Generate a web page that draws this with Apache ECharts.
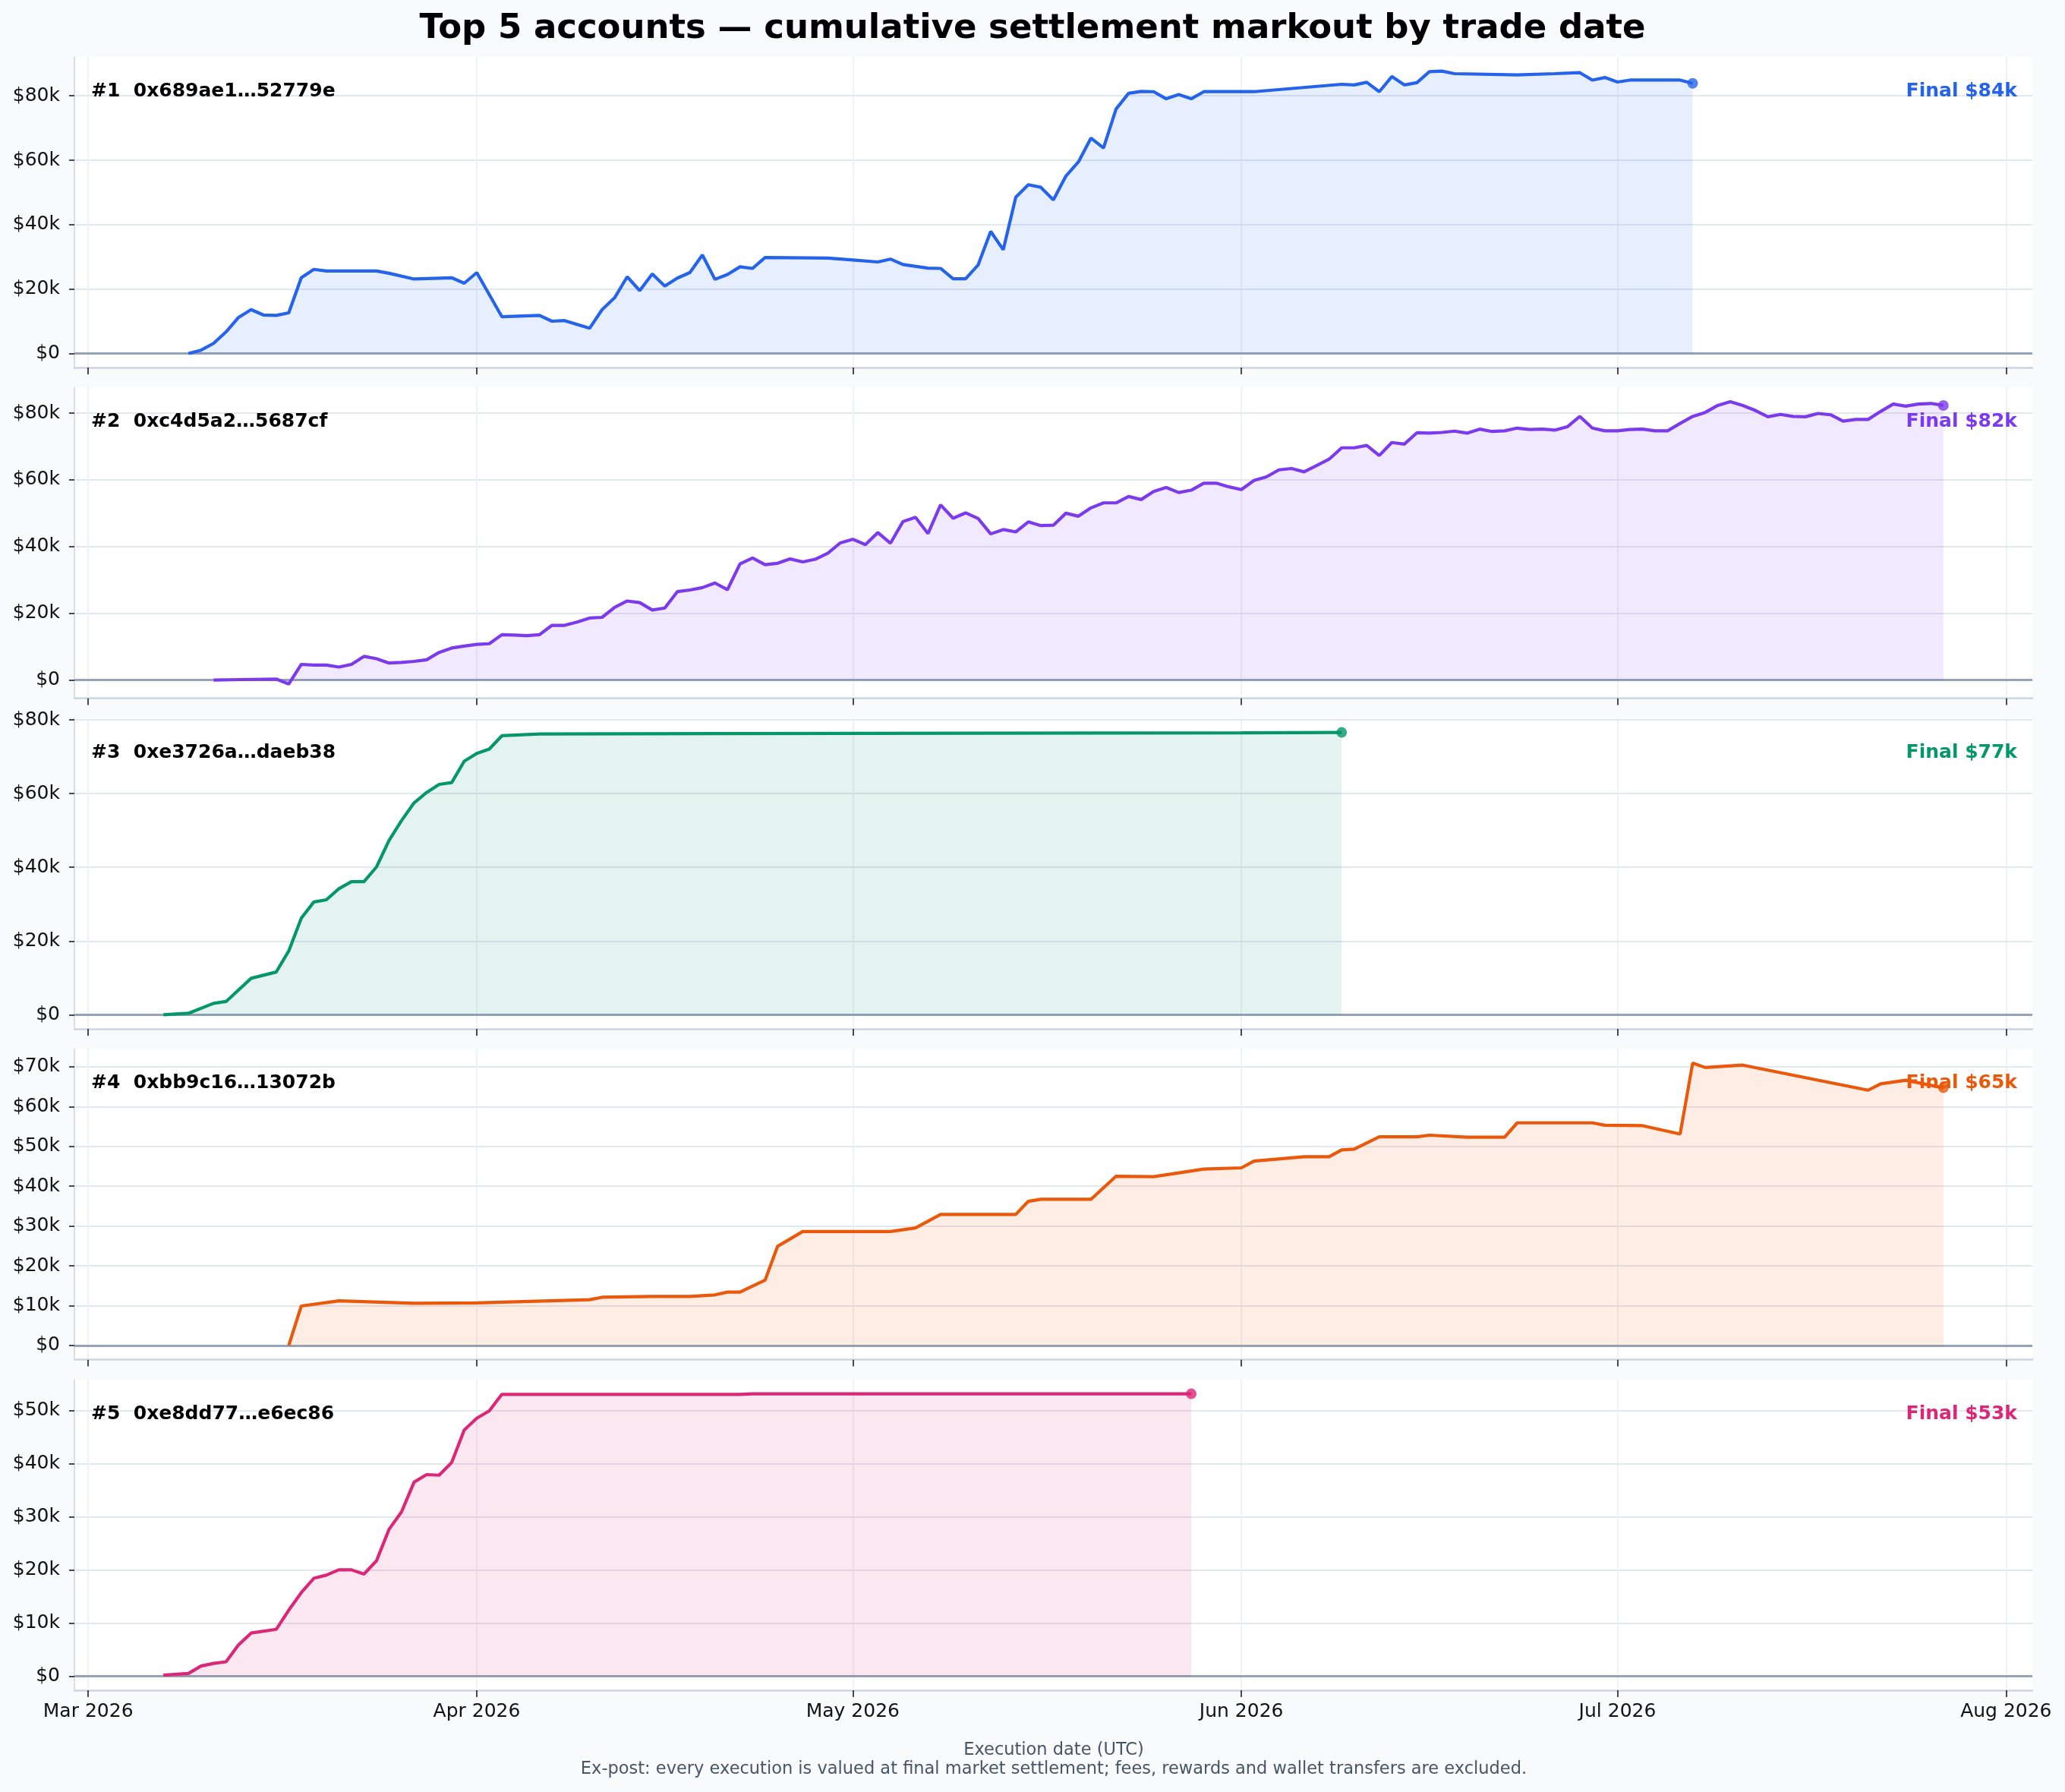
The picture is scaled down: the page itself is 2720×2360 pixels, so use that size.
<!DOCTYPE html>
<html>
<head>
<meta charset="utf-8">
<title>Top 5 accounts</title>
<script src="https://cdn.jsdelivr.net/npm/echarts@6.0.0/dist/echarts.min.js"></script>
<style>
  html, body { margin: 0; padding: 0; background: #f8fafc; }
  .chart { width: 2720px; height: 2360px; }
</style>
</head>
<body>
<div class="chart"></div>
<script>
// values are in $k, dates are 2026 MM-DD
var YEAR = 2026;
var accounts = ['0x689ae1\u202652779e', '0xc4d5a2\u20265687cf', '0xe3726a\u2026daeb38', '0xbb9c16\u202613072b', '0xe8dd77\u2026e6ec86'];

var dates1 = ['03-09','03-10','03-11','03-12','03-13','03-14','03-15','03-16','03-17','03-18','03-19','03-20','03-24','03-25','03-27','03-30','03-31',
  '04-01','04-03','04-06','04-07','04-08','04-10','04-11','04-12','04-13','04-14','04-15','04-16','04-17','04-18','04-19','04-20','04-21','04-22','04-23','04-24','04-29',
  '05-01','05-03','05-04','05-05','05-07','05-08','05-09','05-10','05-11','05-12','05-13','05-14','05-15','05-16','05-17','05-18','05-19','05-20','05-21','05-22','05-23','05-24','05-25','05-26','05-27','05-28','05-29',
  '06-02','06-09','06-10','06-11','06-12','06-13','06-14','06-15','06-16','06-17','06-18','06-23','06-26','06-28','06-29','06-30','07-01','07-02','07-06','07-07'];
var vals1 = [0,1.0,3.1,6.7,11.2,13.6,11.9,11.8,12.6,23.5,26.1,25.6,25.6,24.9,23.1,23.5,21.8,
  25.1,11.4,11.8,10.0,10.2,7.8,13.6,17.3,23.8,19.5,24.7,20.9,23.4,25.1,30.6,23.0,24.5,26.9,26.4,29.8,29.6,
  29.0,28.4,29.3,27.6,26.5,26.4,23.2,23.2,27.5,37.9,32.2,48.5,52.4,51.6,47.7,55.1,59.5,66.9,63.8,75.9,80.8,81.4,81.3,79.1,80.4,79.1,81.3,
  81.3,83.6,83.4,84.2,81.3,86.0,83.4,84.1,87.5,87.7,86.9,86.5,86.9,87.2,84.9,85.7,84.3,84.9,84.9,83.9];

var dates2 = ['03-11','03-13','03-16','03-17','03-18','03-19','03-20','03-21','03-22','03-23','03-24','03-25','03-26','03-27','03-28','03-29','03-30','03-31',
  '04-01','04-02','04-03','04-04','04-05','04-06','04-07','04-08','04-09','04-10','04-11','04-12','04-13','04-14','04-15','04-16','04-17','04-18','04-19','04-20',
  '04-21','04-22','04-23','04-24','04-25','04-26','04-27','04-28','04-29','04-30',
  '05-01','05-02','05-03','05-04','05-05','05-06','05-07','05-08','05-09','05-10','05-11','05-12','05-13','05-14','05-15','05-16','05-17','05-18','05-19','05-20',
  '05-21','05-22','05-23','05-24','05-25','05-26','05-27','05-28','05-29','05-30','05-31',
  '06-01','06-02','06-03','06-04','06-05','06-06','06-07','06-08','06-09','06-10','06-11','06-12','06-13','06-14','06-15','06-16','06-17','06-18','06-19','06-20',
  '06-21','06-22','06-23','06-24','06-25','06-26','06-27','06-28','06-29','06-30',
  '07-01','07-02','07-03','07-04','07-05','07-06','07-07','07-08','07-09','07-10','07-11','07-12','07-13','07-14','07-15','07-16','07-17','07-18','07-19','07-20',
  '07-21','07-22','07-23','07-24','07-25','07-26','07-27'];
var vals2 = [0,0.15,0.3,-1.2,4.7,4.5,4.5,3.9,4.7,7.1,6.4,5.1,5.3,5.6,6.1,8.3,9.6,10.2,
  10.7,10.9,13.6,13.5,13.3,13.6,16.4,16.4,17.4,18.6,18.8,21.8,23.7,23.2,21.0,21.6,26.5,27.0,27.7,29.1,
  27.1,34.8,36.6,34.6,35.0,36.3,35.4,36.2,38.0,41.1,
  42.2,40.6,44.2,41.0,47.5,48.8,43.9,52.5,48.5,50.1,48.4,43.8,45.1,44.4,47.4,46.3,46.4,50.0,49.1,51.6,
  53.1,53.1,55.0,54.1,56.5,57.7,56.2,56.9,59.0,59.0,57.9,
  57.1,59.8,60.9,63.0,63.4,62.4,64.3,66.2,69.6,69.6,70.3,67.3,71.2,70.7,74.1,74.0,74.2,74.6,74.0,75.2,
  74.5,74.7,75.5,75.1,75.2,74.9,75.9,79.0,75.5,74.7,
  74.7,75.1,75.2,74.7,74.7,76.9,79.0,80.2,82.3,83.4,82.3,80.8,78.9,79.6,79.0,78.9,79.9,79.5,77.6,78.1,
  78.1,80.5,82.7,82.1,82.7,82.9,82.3];

var dates3 = ['03-07','03-09','03-11','03-12','03-14','03-16','03-17','03-18','03-19','03-20','03-21','03-22','03-23','03-24','03-25','03-26','03-27','03-28','03-29','03-30','03-31',
  '04-01','04-02','04-03','04-06','04-20','05-10','06-01','06-09'];
var vals3 = [0,0.4,3.1,3.6,9.9,11.6,17.3,26.2,30.6,31.2,34.2,36.1,36.1,40.1,47.3,52.7,57.5,60.3,62.5,63.0,68.8,
  70.9,72.1,75.7,76.2,76.3,76.4,76.5,76.6];

var dates4 = ['03-17','03-18','03-21','03-27','04-01','04-10','04-11','04-15','04-18','04-20','04-21','04-22','04-24','04-25','04-27',
  '05-04','05-06','05-08','05-14','05-15','05-16','05-20','05-22','05-25','05-29',
  '06-01','06-02','06-06','06-08','06-09','06-10','06-12','06-15','06-16','06-19','06-22','06-23','06-29','06-30',
  '07-03','07-06','07-07','07-08','07-11','07-21','07-22','07-24','07-27'];
var vals4 = [0,9.9,11.2,10.6,10.7,11.5,12.1,12.3,12.3,12.7,13.4,13.4,16.4,24.9,28.6,
  28.6,29.5,32.9,32.9,36.2,36.7,36.7,42.5,42.4,44.3,
  44.6,46.3,47.4,47.4,49.1,49.3,52.4,52.4,52.8,52.3,52.3,55.9,55.9,55.3,
  55.2,53.1,70.9,69.8,70.4,64.1,65.7,66.6,64.7];

var dates5 = ['03-07','03-09','03-10','03-11','03-12','03-13','03-14','03-16','03-17','03-18','03-19','03-20','03-21','03-22','03-23','03-24','03-25','03-26','03-27','03-28','03-29','03-30','03-31',
  '04-01','04-02','04-03','04-22','04-23','05-28'];
var vals5 = [0.2,0.5,1.9,2.4,2.7,5.9,8.1,8.8,12.4,15.7,18.4,19.0,20.0,20.0,19.2,21.7,27.6,30.9,36.5,37.9,37.8,40.2,46.3,
  48.5,49.9,53.0,53.0,53.1,53.1];

var yTicks = [[0,20,40,60,80],[0,20,40,60,80],[0,20,40,60,80],[0,10,20,30,40,50,60,70],[0,10,20,30,40,50]];
var monthTicks = ['03-01','04-01','05-01','06-01','07-01','08-01'];
var monthNames = ['Jan','Feb','Mar','Apr','May','Jun','Jul','Aug','Sep','Oct','Nov','Dec'];

(function(){
    var colors = ['#2563eb','#7c3aed','#059669','#ea580c','#db2777'];
    var allDates = [dates1, dates2, dates3, dates4, dates5];
    var allVals = [vals1, vals2, vals3, vals4, vals5];
    var font = 'DejaVu Sans';

    function ts(s){ var p = s.split('-'); return Date.UTC(YEAR, +p[0]-1, +p[1]); }
    var monthTs = monthTicks.map(ts);

    // shared x range, like matplotlib margins (5%)
    var xlo = Infinity, xhi = -Infinity;
    allDates.forEach(function(d){ xlo = Math.min(xlo, ts(d[0])); xhi = Math.max(xhi, ts(d[d.length-1])); });
    var xpad = (xhi - xlo) * 0.05;

    var top0 = 75, step = 435.5, h = 409;
    var grids = [], xAxes = [], yAxes = [], series = [], texts = [];

    texts.push({type:'text', z:100, x:1360, y:38, style:{text:'Top 5 accounts \u2014 cumulative settlement markout by trade date',
      font:'bold 45px "DejaVu Sans"', fill:'#000', align:'center', verticalAlign:'middle', textAlign:'center', textVerticalAlign:'middle'}});

    for (var i = 0; i < 5; i++) {
        var vals = allVals[i];
        var data = allDates[i].map(function(d, k){ return [ts(d), vals[k] * 1000]; });
        var lo = Math.min(0, Math.min.apply(null, vals)), hi = Math.max(0, Math.max.apply(null, vals));
        var pad = (hi - lo) * 0.05;
        var ticks = yTicks[i].map(function(v){ return v * 1000; });
        var top = top0 + i * step;

        grids.push({left:98, right:43, top:top, height:h, show:true, backgroundColor:'#fff', borderWidth:0, containLabel:false, outerBoundsMode:'none'});
        xAxes.push({
            type:'value', gridIndex:i, min:xlo - xpad, max:xhi + xpad,
            axisLine:{show:true, onZero:false, lineStyle:{color:'#cbd5e1', width:2.5}},
            axisTick:{show:true, customValues:monthTs, length:9, lineStyle:{color:'#111', width:1.5}},
            axisLabel:{show:i === 4, customValues:monthTs, margin:16, fontSize:25, fontFamily:font, color:'#111',
              formatter:function(v){ var d = new Date(v); return monthNames[d.getUTCMonth()] + ' ' + d.getUTCFullYear(); }},
            splitLine:{show:false}
        });
        yAxes.push({
            type:'value', gridIndex:i, min:(lo - pad) * 1000, max:(hi + pad) * 1000,
            axisLine:{show:true, onZero:false, lineStyle:{color:'#cbd5e1', width:1.5}},
            axisTick:{show:true, customValues:ticks, length:7, lineStyle:{color:'#111', width:1.5}},
            axisLabel:{customValues:ticks, margin:19, fontSize:25, fontFamily:font, color:'#111',
              formatter:function(v){ return v === 0 ? '$0' : '$' + Math.round(v / 1000) + 'k'; }},
            splitLine:{show:false}
        });

        var lines = [];
        ticks.forEach(function(v){ if (v !== 0) lines.push({yAxis:v, lineStyle:{color:'#e2e8f0', width:2, type:'solid'}}); });
        monthTs.forEach(function(t){ lines.push({xAxis:t, lineStyle:{color:'#eaedf4', width:1.5, type:'solid'}}); });
        lines.push({yAxis:0, lineStyle:{color:'#94a3b8', width:3, type:'solid'}});

        series.push({
            type:'line', xAxisIndex:i, yAxisIndex:i, data:data, showSymbol:false, z:3,
            lineStyle:{color:colors[i], width:4.2},
            itemStyle:{color:colors[i]},
            areaStyle:{color:colors[i], opacity:0.11, origin:0},
            markLine:{silent:true, z:1, symbol:['none','none'], label:{show:false}, animation:false, data:lines}
        });
        series.push({
            type:'scatter', xAxisIndex:i, yAxisIndex:i, data:[data[data.length-1]], symbolSize:14, z:4,
            itemStyle:{color:colors[i]}
        });

        texts.push({type:'text', z:100, x:120, y:top + 45, style:{text:'#' + (i+1) + '  ' + accounts[i],
          font:'bold 25px "DejaVu Sans"', fill:'#000', align:'left', verticalAlign:'middle', textAlign:'left', textVerticalAlign:'middle'}});
        texts.push({type:'text', z:100, x:2657, y:top + 45, style:{text:'Final $' + Math.round(vals[vals.length-1]) + 'k',
          font:'bold 25px "DejaVu Sans"', fill:colors[i], align:'right', verticalAlign:'middle', textAlign:'right', textVerticalAlign:'middle'}});
    }

    texts.push({type:'text', z:100, x:1388, y:2305, style:{text:'Execution date (UTC)',
      font:'22.5px "DejaVu Sans"', fill:'#475569', align:'center', verticalAlign:'middle', textAlign:'center', textVerticalAlign:'middle'}});
    texts.push({type:'text', z:100, x:1388, y:2330, style:{text:'Ex-post: every execution is valued at final market settlement; fees, rewards and wallet transfers are excluded.',
      font:'22.5px "DejaVu Sans"', fill:'#475569', align:'center', verticalAlign:'middle', textAlign:'center', textVerticalAlign:'middle'}});

    var mycharts = echarts.init(document.querySelector('.chart'), null, {renderer:'canvas'});
    mycharts.setOption({
        backgroundColor:'#f8fafc',
        animation:false,
        grid:grids,
        xAxis:xAxes,
        yAxis:yAxes,
        series:series,
        graphic:{elements:texts}
    });
})();
</script>
</body>
</html>
